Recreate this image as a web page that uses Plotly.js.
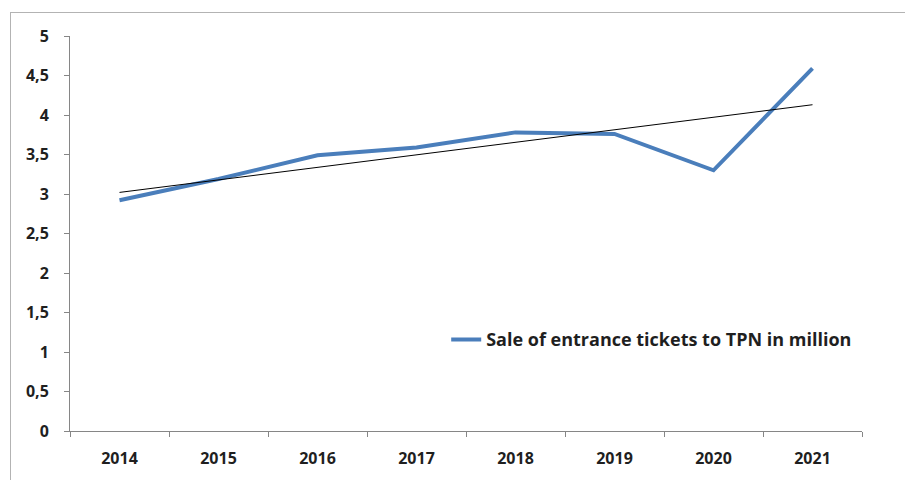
<!DOCTYPE html>
<html>
<head>
<meta charset="utf-8">
<script src="https://cdn.plot.ly/plotly-3.0.1.min.js"></script>
<style>
  html, body { margin: 0; padding: 0; background: #fff; }
  #frame { position: absolute; left: 10px; top: 12px; width: 895px; height: 468px;
           border-left: 1px solid #b3b3b3; border-top: 1px solid #b3b3b3; }
  #chart { position: absolute; left: 0; top: 0; width: 905px; height: 480px; }
</style>
</head>
<body>
<div id="frame"></div>
<div id="chart"></div>
<script>
const years = ['2014', '2015', '2016', '2017', '2018', '2019', '2020', '2021'];
const tickets = [2.92, 3.19, 3.49, 3.59, 3.78, 3.76, 3.30, 4.59];
const trendYears = ['2014', '2021'];
const trendValues = [3.02, 4.13];
const seriesName = 'Sale of entrance tickets to TPN in million';
const yTickVals = [0, 0.5, 1, 1.5, 2, 2.5, 3, 3.5, 4, 4.5, 5];

const fontFam = '"Open Sans", sans-serif';
const textColor = '#1f1f1f';
const axisColor = '#868686';

const traces = [
  {
    x: years, y: tickets, type: 'scatter', mode: 'lines', name: seriesName,
    line: { color: '#4a7ebb', width: 4 }, showlegend: true
  },
  {
    x: trendYears, y: trendValues, type: 'scatter', mode: 'lines', name: 'trend',
    line: { color: '#000000', width: 1 }, showlegend: false
  }
];

const layout = {
  width: 905, height: 480,
  paper_bgcolor: 'rgba(0,0,0,0)', plot_bgcolor: 'rgba(0,0,0,0)',
  margin: { l: 70, r: 43, t: 36, b: 49 },
  separators: ',.',
  font: { family: fontFam, color: textColor, size: 16, weight: 'bold' },
  showlegend: true,
  legend: {
    x: 0.475, y: 0.231, xanchor: 'left', yanchor: 'middle',
    font: { family: fontFam, size: 18, color: textColor, weight: 'bold' },
    bgcolor: 'rgba(0,0,0,0)', itemwidth: 30
  },
  xaxis: {
    type: 'category', range: [-0.5, 7.5], tickson: 'boundaries',
    ticks: 'outside', ticklen: 5, tickcolor: axisColor, tickwidth: 1,
    showline: true, linecolor: axisColor, linewidth: 1,
    showgrid: false, zeroline: false, fixedrange: true,
    tickfont: { family: fontFam, size: 16, color: textColor, weight: 'bold' },
    ticklabelstandoff: 13
  },
  yaxis: {
    range: [0, 5], tickvals: yTickVals, tickformat: '.1~f',
    ticks: 'outside', ticklen: 5, tickcolor: axisColor, tickwidth: 1,
    showline: true, linecolor: axisColor, linewidth: 1,
    showgrid: false, zeroline: false, fixedrange: true,
    tickfont: { family: fontFam, size: 16, color: textColor, weight: 'bold' },
    ticklabelstandoff: 12
  }
};

Plotly.newPlot('chart', traces, layout, { displayModeBar: false, staticPlot: true });
</script>
</body>
</html>
